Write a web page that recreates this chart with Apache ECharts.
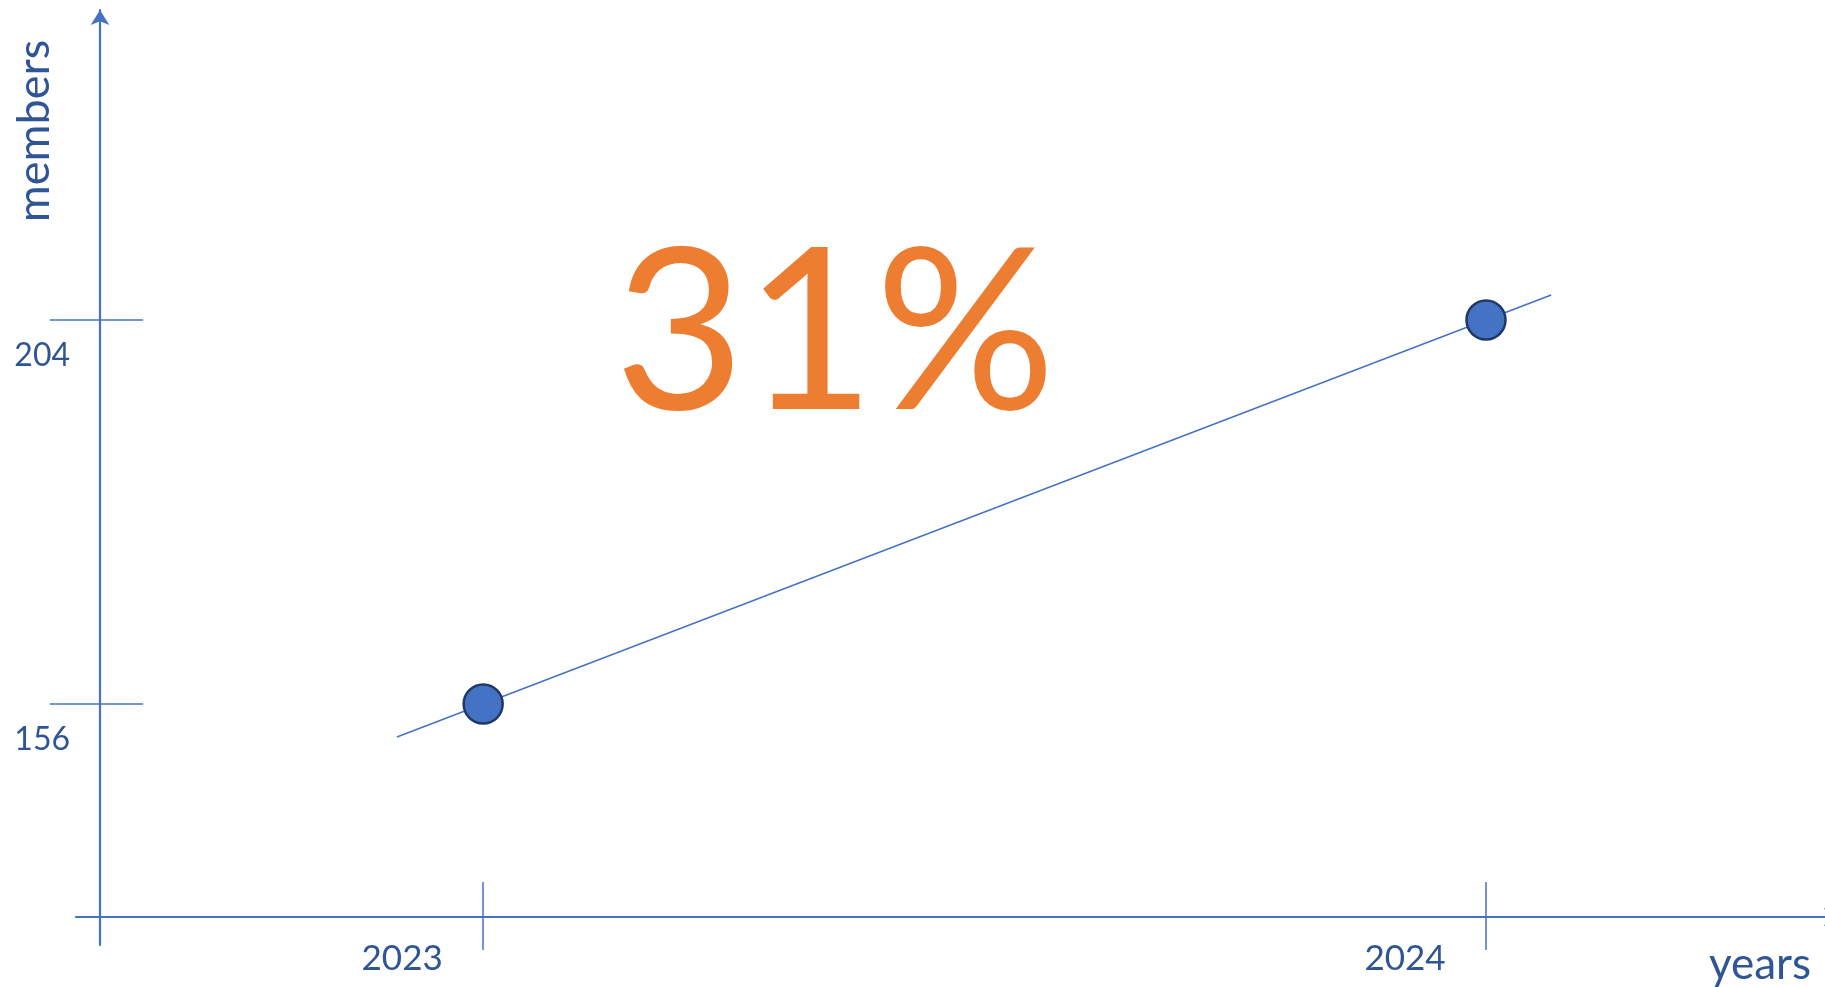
<!DOCTYPE html>
<html>
<head>
<meta charset="utf-8">
<script src="https://cdn.jsdelivr.net/npm/echarts@6/dist/echarts.min.js"></script>
<style>html,body{margin:0;padding:0;background:#fff;overflow:hidden;}#c{width:1839px;height:987px;}</style>
</head>
<body>
<div id="c"></div>
<script>
// ---- data ----
const years = [2023, 2024];
const members = [156, 204];
const yTickValues = [156, 204];
const xTickValues = [2023, 2024];
const trendX = [2022.914, 2024.065];   // trendline extent
const xAxisTitle = 'years';
const yAxisTitle = 'members';

// linear fit of the data for the trendline
const n = years.length;
const mx = years.reduce((a, b) => a + b, 0) / n;
const my = members.reduce((a, b) => a + b, 0) / n;
let sxy = 0, sxx = 0;
for (let i = 0; i < n; i++) { sxy += (years[i] - mx) * (members[i] - my); sxx += (years[i] - mx) ** 2; }
const slope = sxy / sxx, icpt = my - slope * mx;
const trendData = trendX.map(x => [x, icpt + slope * x]);
const growth = Math.round((members[1] - members[0]) / members[0] * 100) + '%';

const AX = '#4472C4', LBL = '#2F5597';
const FONT = 'Lato';

const chart = echarts.init(document.getElementById('c'), null, {renderer: 'canvas'});
const yMin = 125.875, yMax = 242.75;
const xMin = 2022.594, xMax = 2024.352;

chart.setOption({
  animation: false,
  backgroundColor: '#fff',
  grid: {left: 76, right: 0, top: 10, bottom: 42, containLabel: false},
  xAxis: [{
    type: 'value', min: xMin, max: xMax, position: 'bottom', offset: -28,
    axisLine: {show: true, lineStyle: {color: AX, width: 2.2}, symbol: ['none', 'arrow'], symbolSize: [14, 15]},
    axisTick: {show: true, inside: false, length: 33, lineStyle: {color: AX, width: 1.5}, customValues: xTickValues},
    axisLabel: {show: true, customValues: xTickValues, formatter: v => String(Math.round(v)),
      color: LBL, fontFamily: FONT, fontSize: 35, lineHeight: 40, margin: 22, align: 'center', verticalAlign: 'top',
      padding: [0, 162, 0, 0]},
    splitLine: {show: false}
  }, {
    type: 'value', min: xMin, max: xMax, position: 'bottom', offset: -28,
    axisLine: {show: false},
    axisTick: {show: true, inside: true, length: 35, lineStyle: {color: AX, width: 1.5}, customValues: xTickValues},
    axisLabel: {show: false},
    splitLine: {show: false}
  }],
  yAxis: [{
    type: 'value', min: yMin, max: yMax, position: 'left', offset: -24,
    axisLine: {show: true, lineStyle: {color: AX, width: 2.2}, symbol: ['none', 'arrow'], symbolSize: [14, 15]},
    axisTick: {show: true, inside: false, length: 50, lineStyle: {color: AX, width: 1.5}, customValues: yTickValues},
    axisLabel: {show: true, customValues: yTickValues, color: LBL, fontFamily: FONT, fontSize: 32,
      margin: 30, align: 'right', verticalAlign: 'top', lineHeight: 71},
    splitLine: {show: false}
  }, {
    type: 'value', min: yMin, max: yMax, position: 'left', offset: -24,
    axisLine: {show: false},
    axisTick: {show: true, inside: true, length: 43, lineStyle: {color: AX, width: 1.5}, customValues: yTickValues},
    axisLabel: {show: false},
    splitLine: {show: false}
  }],
  series: [{
    type: 'line', data: trendData, showSymbol: false, symbol: 'none',
    lineStyle: {color: AX, width: 1.5}, z: 2, silent: true
  }, {
    type: 'scatter', data: years.map((y, i) => [y, members[i]]), symbol: 'circle', symbolSize: 39,
    itemStyle: {color: '#4472C4', borderColor: '#1F3864', borderWidth: 2.5, opacity: 1}, z: 3
  }],
  graphic: [{
    type: 'text', x: 34, y: 131, rotation: Math.PI / 2,
    style: {text: yAxisTitle, fill: LBL, font: '45px ' + FONT, textAlign: 'center', textVerticalAlign: 'middle'}
  }, {
    type: 'text', x: 1760, y: 965,
    style: {text: xAxisTitle, fill: LBL, font: '44px ' + FONT, textAlign: 'center', textVerticalAlign: 'middle'}
  }, {
    type: 'text', x: 835, y: 336,
    style: {text: growth, fill: '#ED7D31', font: '225px ' + FONT, textAlign: 'center', textVerticalAlign: 'middle'}
  }]
});
</script>
</body>
</html>
